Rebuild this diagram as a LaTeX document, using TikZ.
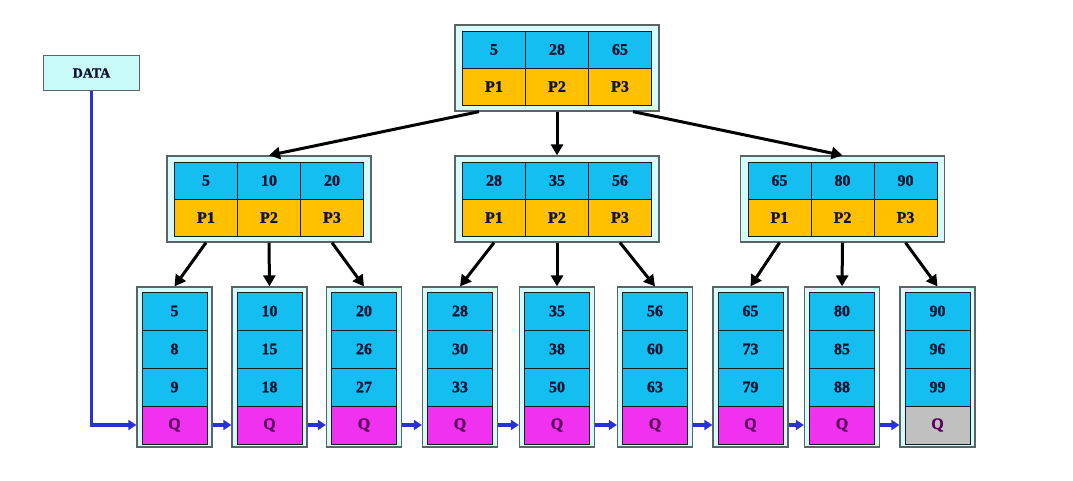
\documentclass[tikz,border=0pt]{standalone}
\usepackage{fontspec}
\setmainfont{Liberation Serif}[BoldFeatures={FakeBold=1.2}]
\usetikzlibrary{arrows.meta}
\definecolor{keyc}{RGB}{20,190,240}
\definecolor{ptrc}{RGB}{255,192,0}
\definecolor{qc}{RGB}{240,50,240}
\definecolor{qgray}{RGB}{192,192,192}
\definecolor{framebg}{RGB}{215,250,250}
\definecolor{framebd}{RGB}{90,100,100}
\definecolor{databg}{RGB}{200,250,250}
\definecolor{celld}{RGB}{20,30,40}
\definecolor{txt}{RGB}{15,20,50}
\definecolor{qtxt}{RGB}{90,0,90}
\definecolor{bluec}{RGB}{40,50,210}
\tikzset{
  frame/.style={draw=framebd, fill=framebg, line width=1.3pt, inner sep=0pt},
  cell/.style={draw=celld, line width=0.9pt, inner sep=0pt, text=txt,
    font=\fontsize{16}{16}\selectfont\bfseries},
  key/.style={cell, fill=keyc, minimum width=63pt, minimum height=37pt},
  ptr/.style={cell, fill=ptrc, minimum width=63pt, minimum height=37pt},
  lkey/.style={cell, fill=keyc, minimum width=65pt, minimum height=38pt},
  lq/.style={cell, fill=qc, text=qtxt, minimum width=65pt, minimum height=38pt},
  tarrow/.style={-{Triangle[length=11pt,width=12pt]}, line width=3pt, black},
  barrow/.style={-{Triangle[length=8pt,width=10pt]}, line width=3.5pt, bluec},
  databox/.style={draw=framebd, fill=databg, line width=1.2pt, inner sep=0pt,
    minimum width=96pt, minimum height=35pt, text=txt,
    font=\fontsize{14}{14}\selectfont\bfseries}
}
\newcommand{\inode}[9]{%
  % #1 name, #2 cx, #3 cy(frame center), #4-#6 keys, #7-#9 ptrs
  \node[frame, minimum width=204pt, minimum height=86pt] (#1) at (#2,#3) {};
  \node[key] (#1k1) at (#2-63,#3-18.5) {#4};
  \node[key] (#1k2) at (#2,#3-18.5) {#5};
  \node[key] (#1k3) at (#2+63,#3-18.5) {#6};
  \node[ptr] (#1p1) at (#2-63,#3+18.5) {#7};
  \node[ptr] (#1p2) at (#2,#3+18.5) {#8};
  \node[ptr] (#1p3) at (#2+63,#3+18.5) {#9};
}
\newcommand{\leafnode}[6]{%
  % #1 name, #2 cx, #3-#5 keys, #6 q fill
  \node[frame, minimum width=75pt, minimum height=160pt] (#1) at (#2,367) {};
  \node[lkey] (#1a) at (#2,311) {#3};
  \node[lkey] (#1b) at (#2,349) {#4};
  \node[lkey] (#1c) at (#2,387) {#5};
  \node[lq, fill=#6] (#1q) at (#2,425) {Q};
}
\begin{document}
\begin{tikzpicture}[x=1pt,y=-1pt]
\useasboundingbox (0,0) rectangle (1073,480);
\fill[white] (0,0) rectangle (1073,480);

\node[databox] (data) at (91.5,73) {DATA};

\inode{root}{557}{68}{5}{28}{65}{P1}{P2}{P3}
\inode{ma}{269}{199}{5}{10}{20}{P1}{P2}{P3}
\inode{mb}{557}{199}{28}{35}{56}{P1}{P2}{P3}
\inode{mc}{842.5}{199}{65}{80}{90}{P1}{P2}{P3}

\leafnode{la}{174.5}{5}{8}{9}{qc}
\leafnode{lb}{269.5}{10}{15}{18}{qc}
\leafnode{lc}{364}{20}{26}{27}{qc}
\leafnode{ld}{460}{28}{30}{33}{qc}
\leafnode{le}{557}{35}{38}{50}{qc}
\leafnode{lf}{655}{56}{60}{63}{qc}
\leafnode{lg}{750.5}{65}{73}{79}{qc}
\leafnode{lh}{842}{80}{85}{88}{qc}
\leafnode{li}{937.5}{90}{96}{99}{qgray}

% root to middle
\draw[tarrow] ([xshift=-78pt]root.south) -- (ma.north);
\draw[tarrow] (root.south) -- (mb.north);
\draw[tarrow] ([xshift=76pt]root.south) -- (mc.north);

% middle to leaves
\draw[tarrow] (map1.south |- ma.south) -- (la.north);
\draw[tarrow] (map2.south |- ma.south) -- (lb.north);
\draw[tarrow] (map3.south |- ma.south) -- (lc.north);
\draw[tarrow] (mbp1.south |- mb.south) -- (ld.north);
\draw[tarrow] (mbp2.south |- mb.south) -- (le.north);
\draw[tarrow] (mbp3.south |- mb.south) -- (lf.north);
\draw[tarrow] (mcp1.south |- mc.south) -- (lg.north);
\draw[tarrow] (mcp2.south |- mc.south) -- (lh.north);
\draw[tarrow] (mcp3.south |- mc.south) -- (li.north);

% data pointer and leaf chain
\draw[barrow] (data.south) |- (laq -| la.west);
\draw[barrow] (laq -| la.east) -- (lbq -| lb.west);
\draw[barrow] (lbq -| lb.east) -- (lcq -| lc.west);
\draw[barrow] (lcq -| lc.east) -- (ldq -| ld.west);
\draw[barrow] (ldq -| ld.east) -- (leq -| le.west);
\draw[barrow] (leq -| le.east) -- (lfq -| lf.west);
\draw[barrow] (lfq -| lf.east) -- (lgq -| lg.west);
\draw[barrow] (lgq -| lg.east) -- (lhq -| lh.west);
\draw[barrow] (lhq -| lh.east) -- (liq -| li.west);
\end{tikzpicture}
\end{document}
